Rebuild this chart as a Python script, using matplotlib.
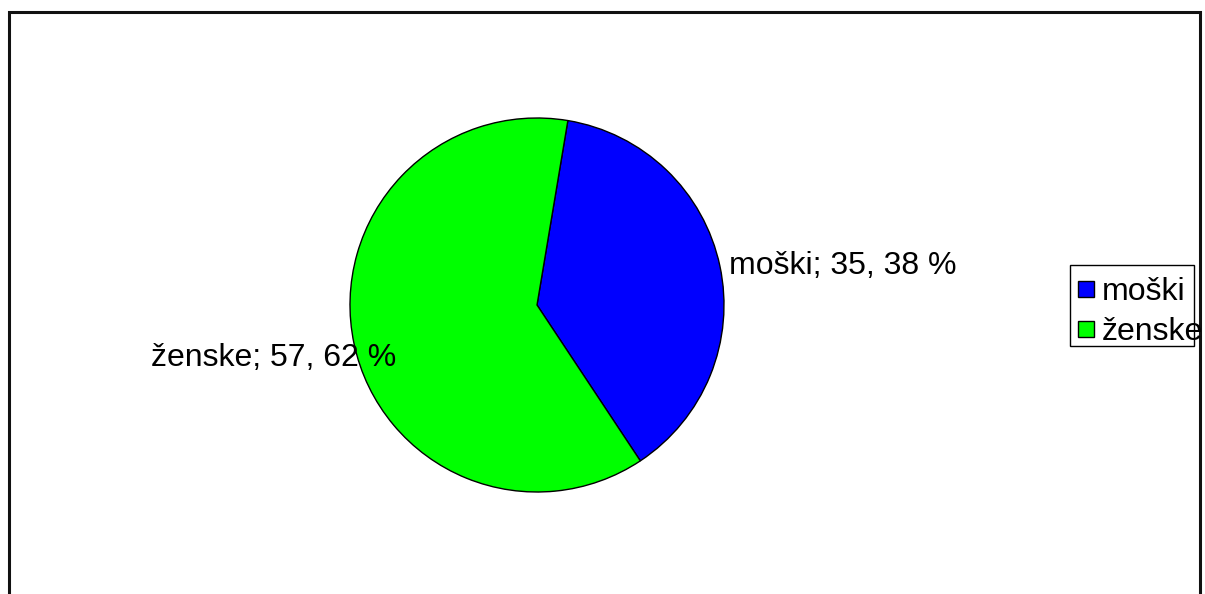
import matplotlib
matplotlib.use('Agg')
import matplotlib.pyplot as plt
from matplotlib.patches import Rectangle

plt.rcParams['font.family'] = ['Liberation Sans', 'DejaVu Sans']

labels = ['moški', 'ženske']
values = [35, 57]
colors = ['#0000ff', '#00ff00']

W, H = 1205, 594
fig = plt.figure(figsize=(W / 100, H / 100), dpi=100)
ax = fig.add_axes([0, 0, 1, 1])

cx, cy, r = 537, H - 305, 187
wedges, _ = ax.pie(values, colors=colors, startangle=80.5, counterclock=False,
                   center=(cx, cy), radius=r, frame=True,
                   wedgeprops=dict(edgecolor='black', linewidth=1.0))
ax.set_xlim(0, W)
ax.set_ylim(0, H)
ax.set_aspect('equal')
ax.axis('off')

# outer chart frame (bottom runs off the image)
ax.add_patch(Rectangle((9, -10), 1191, H - 12 + 10, fill=False,
                       edgecolor='#111111', linewidth=2.2))

total = sum(values)
pcts = [round(v / total * 100) for v in values]
texts = ['{}; {}, {} %'.format(l, v, p) for l, v, p in zip(labels, values, pcts)]

ax.text(729, H - 266, texts[0], fontsize=23, ha='left', va='center')
ax.text(151, H - 358, texts[1], fontsize=23, ha='left', va='center')

# legend: fixed box like the original (text spills over the right edge)
ax.add_patch(Rectangle((1070, H - 346), 124, 81, fill=True, facecolor='white',
                       edgecolor='black', linewidth=1.0))
for i, (lab, c) in enumerate(zip(labels, colors)):
    ym = H - 289 - i * 40
    ax.add_patch(Rectangle((1078, ym - 8), 16, 16, facecolor=c,
                           edgecolor='black', linewidth=1.0))
    ax.text(1102, ym - 3, lab, fontsize=23, ha='left', va='center')

fig.savefig('out.png', dpi=100)
